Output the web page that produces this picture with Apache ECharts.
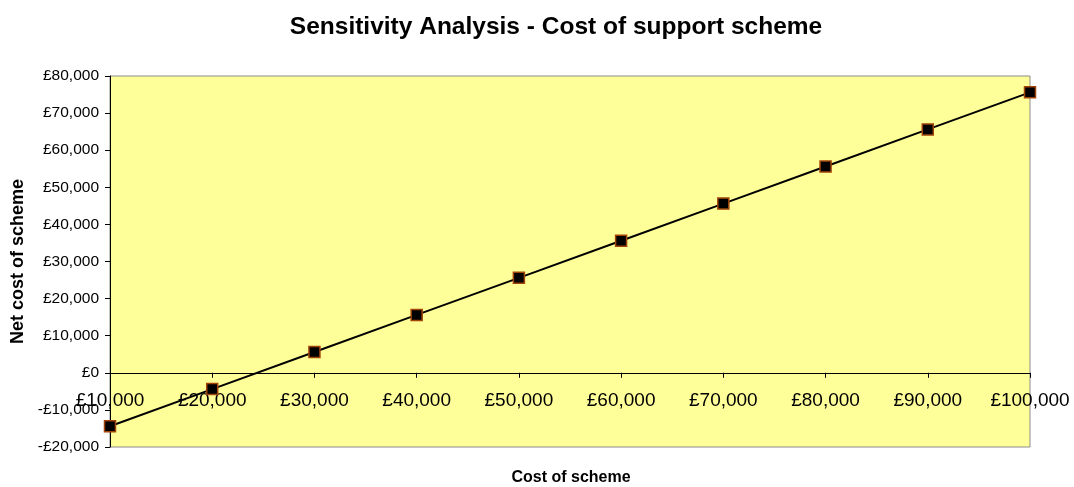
<!DOCTYPE html>
<html>
<head>
<meta charset="utf-8">
<script src="https://cdn.jsdelivr.net/npm/echarts@6/dist/echarts.min.js"></script>
<style>
  html, body { margin: 0; padding: 0; background: #fff; }
  #chart { width: 1074px; height: 487px; }
</style>
</head>
<body>
<div id="chart"></div>
<script>
// cost of scheme (x) and net cost of scheme (y)
const schemeCost = [10000, 20000, 30000, 40000, 50000, 60000, 70000, 80000, 90000, 100000]
const netCost = [-14400, -4400, 5600, 15600, 25600, 35600, 45600, 55600, 65600, 75600]

const money = (v) => {
  const s = Math.abs(v).toString().replace(/\B(?=(\d{3})+(?!\d))/g, ',')
  return (v < 0 ? '-£' : '£') + s
}

const chart = echarts.init(document.getElementById('chart'))
chart.setOption({
  animation: false,
  textStyle: { fontFamily: 'Arial, "Liberation Sans", sans-serif' },
  title: [
    {
      text: 'Sensitivity Analysis - Cost of support scheme',
      left: 551,
      textAlign: 'center',
      top: 10,
      textStyle: { fontSize: 24.5, fontWeight: 'bold', color: '#000' }
    },
    {
      text: 'Cost of scheme',
      left: 566,
      textAlign: 'center',
      top: 465,
      textStyle: { fontSize: 16, fontWeight: 'bold', color: '#000' }
    }
  ],
  grid: {
    left: 110, right: 44, top: 76, bottom: 40,
    outerBoundsMode: 'none',
    containLabel: false,
    show: true,
    backgroundColor: '#FFFF99',
    borderColor: '#8c8c8c',
    borderWidth: 1
  },
  xAxis: {
    type: 'value',
    min: 10000,
    max: 100000,
    interval: 10000,
    position: 'bottom',
    offset: -74.2,
    axisLine: { onZero: false, lineStyle: { color: '#000', width: 1 } },
    axisTick: { show: true, length: 5, lineStyle: { color: '#000' } },
    splitLine: { show: false },
    axisLabel: {
      formatter: money,
      fontSize: 19,
      color: '#000',
      margin: 18,
      showMinLabel: true,
      showMaxLabel: true
    }
  },
  yAxis: {
    type: 'value',
    min: -20000,
    max: 80000,
    interval: 10000,
    name: 'Net cost of scheme',
    nameLocation: 'middle',
    nameGap: 82,
    nameTextStyle: { fontSize: 18, fontWeight: 'bold', color: '#000' },
    axisLine: { show: true, onZero: false, lineStyle: { color: '#000', width: 1 } },
    axisTick: { show: true, length: 5, lineStyle: { color: '#000' } },
    splitLine: { show: false },
    axisLabel: { formatter: money, fontSize: 15.5, color: '#000', margin: 11 }
  },
  series: [
    {
      type: 'line',
      data: schemeCost.map((x, i) => [x, netCost[i]]),
      symbol: 'rect',
      symbolSize: 11,
      lineStyle: { color: '#000', width: 2 },
      itemStyle: { color: '#000', borderColor: '#a0440a', borderWidth: 1.5 }
    }
  ]
})
</script>
</body>
</html>
